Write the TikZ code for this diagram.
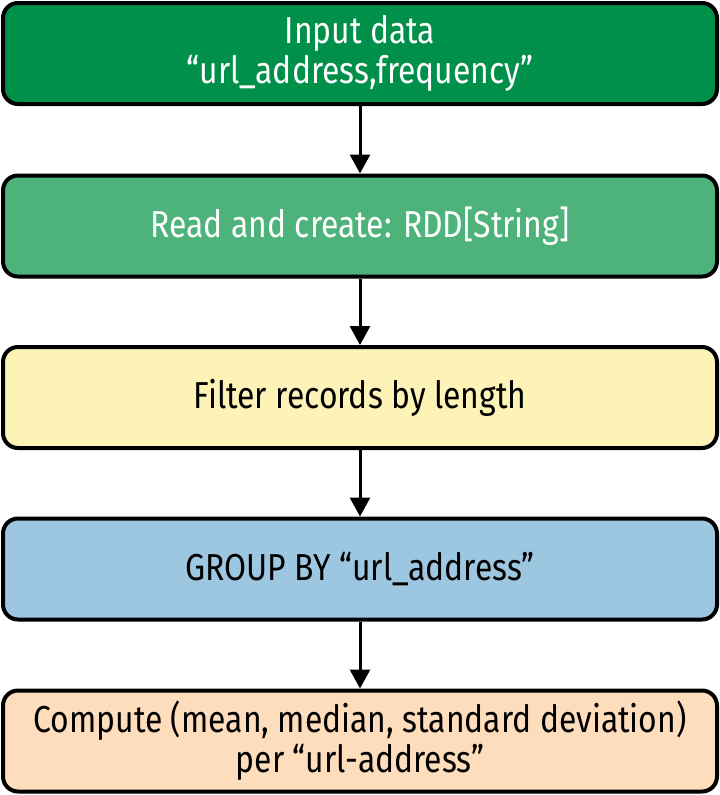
\documentclass[tikz,border=0pt]{standalone}
\usepackage{fontspec}
\setmainfont{Fira Sans}[FakeStretch=0.85]
\usetikzlibrary{arrows.meta}
\definecolor{cA}{HTML}{00904A}
\definecolor{cB}{HTML}{4DB37B}
\definecolor{cC}{HTML}{FEF3B6}
\definecolor{cD}{HTML}{9DC7E1}
\definecolor{cE}{HTML}{FDDDBB}
\tikzset{
  box/.style={draw=black, line width=4pt, rounded corners=15pt, minimum width=714pt, minimum height=101pt, align=center, inner sep=0pt, font=\fontsize{37.5}{40}\selectfont},
  conn/.style={line width=3pt, -{Triangle[width=20pt,length=19pt]}}
}
\begin{document}
\begin{tikzpicture}[x=1pt,y=-1pt]
\useasboundingbox (0,0) rectangle (720,795);
\node[box, fill=cA, text=white] (a) at (360,53.5) {Input data\\“url\_address,frequency”};
\node[box, fill=cB, text=white] (b) at (360,226) {Read and create: RDD[String]};
\node[box, fill=cC] (c) at (360,397.5) {Filter records by length};
\node[box, fill=cD] (d) at (360,569) {GROUP BY “url\_address”};
\node[box, fill=cE] (e) at (360,741) {Compute (mean, median, standard deviation)\\per “url-address”};
\draw[conn] (a) -- (b);
\draw[conn] (b) -- (c);
\draw[conn] (c) -- (d);
\draw[conn] (d) -- (e);
\end{tikzpicture}
\end{document}
